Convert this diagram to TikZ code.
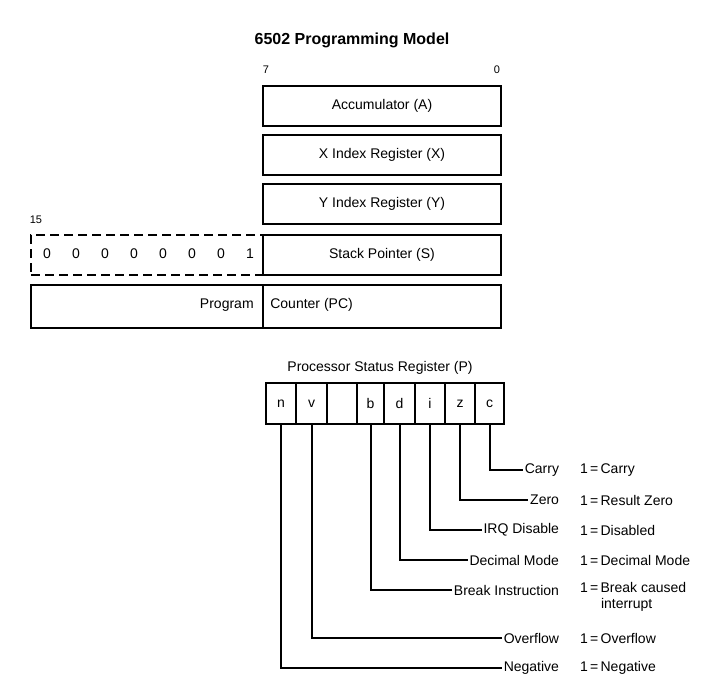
\documentclass[tikz,border=0pt]{standalone}
\usepackage{fontspec}
\setmainfont{Liberation Sans}
\begin{document}
\begin{tikzpicture}[x=1pt,y=-1pt,line width=2pt,
  every node/.style={font=\fontsize{14}{16}\selectfont},
  reg/.style={draw,minimum width=238pt,minimum height=40pt,anchor=north west,inner sep=0},
  cell/.style={draw,minimum height=41pt,anchor=north west,inner sep=0},
  lab/.style={anchor=east,inner sep=1pt},
  val/.style={anchor=west,align=left,inner sep=0},
  conn/.style={line width=2pt}]
\useasboundingbox (0,0) rectangle (720,681);
\node[font=\fontsize{16}{18}\selectfont\bfseries] (title) at (352,40) {6502 Programming Model};
\node[font=\fontsize{11}{12}\selectfont] (b7) at (266,70) {7};
\node[font=\fontsize{11}{12}\selectfont] (b0) at (497,70) {0};
\node[font=\fontsize{11}{12}\selectfont] (b15) at (36,220) {15};
\node[reg] (A) at (262,85) {Accumulator (A)};
\node[reg] (X) at (262,134) {X Index Register (X)};
\node[reg] (Y) at (262,183) {Y Index Register (Y)};
\node[reg] (S) at (262,234) {Stack Pointer (S)};
\node[draw,dashed,dash pattern=on 9pt off 5pt,minimum width=232pt,minimum height=40pt,anchor=north west,inner sep=0] (SH) at (30,234) {};
\foreach \i/\d in {0/0,1/0,2/0,3/0,4/0,5/0,6/0,7/1}
  \node (s\i) at (47+29*\i,254) {\d};
\node[draw,minimum width=232pt,minimum height=43pt,anchor=north west,inner sep=0] (PCH) at (30,284) {};
\node[reg,minimum height=43pt] (PCL) at (262,284) {};
\node[anchor=east] (prog) at (258,305) {Program};
\node[anchor=west] (ctr) at (266,305) {Counter (PC)};
\node (ptitle) at (380,368) {Processor Status Register (P)};
\foreach \n/\x/\w/\t in {n/265/30/n,v/295/31/v,u/326/30/{},b/356/27/b,d/383/31/d,i/414/30/i,z/444/30/z,c/474/29/c}
  \node[cell,minimum width=\w pt] (\n) at (\x,382) {\t};
\foreach \n/\y/\l/\v in {c/470/Carry/Carry,z/500/Zero/Result Zero,i/530/IRQ Disable/Disabled,d/560/Decimal Mode/Decimal Mode,v/638/Overflow/Overflow,n/668/Negative/Negative}{
  \node[lab] (L\n) at (561,\y) {\l};
  \node[val] (V\n) at (579,\y) {1\,=\,\v};
  \draw[conn] (\n.south) |- (L\n.west);
}
\node[lab] (Lb) at (561,590) {Break Instruction};
\node[val,anchor=north west] (Vb) at (579,581) {1\,=\,Break caused\\\hspace{21pt}interrupt};
\draw[conn] (b.south) |- (Lb.west);
\end{tikzpicture}
\end{document}
